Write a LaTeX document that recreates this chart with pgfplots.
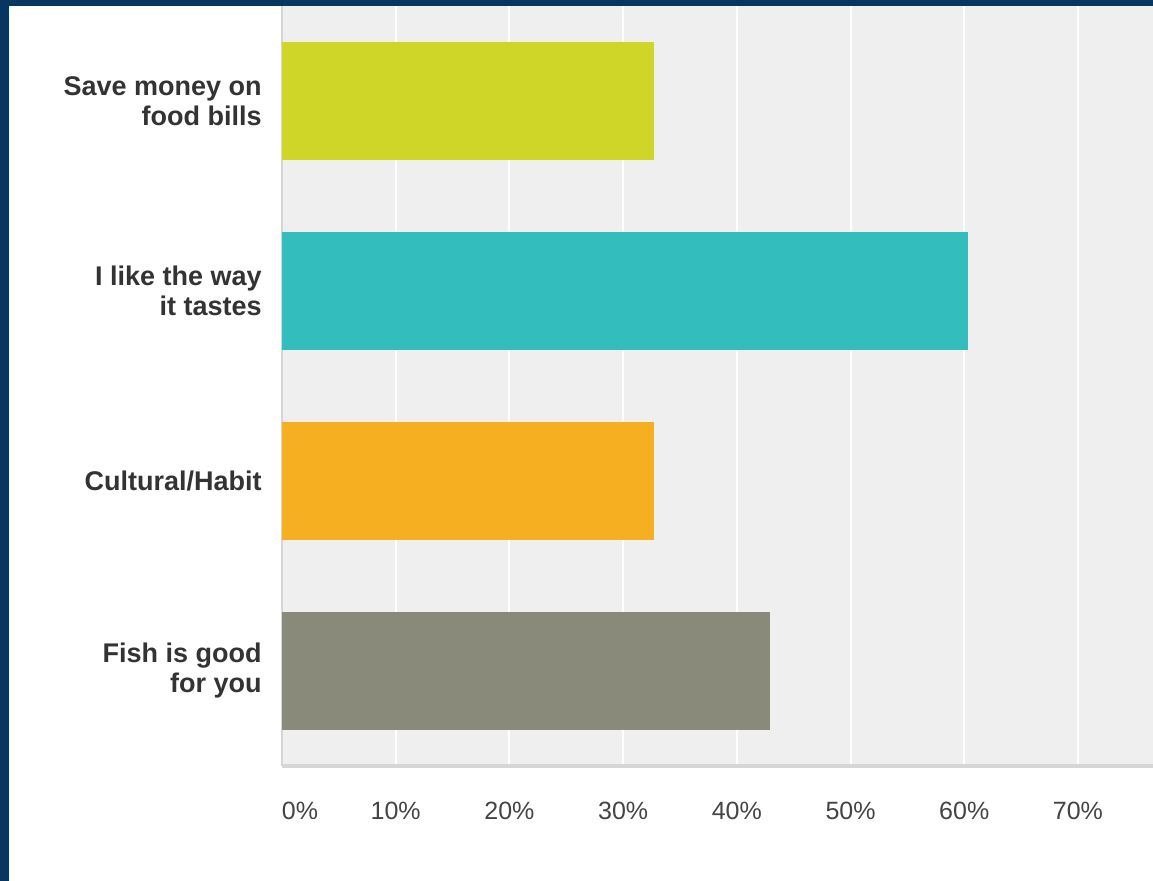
\documentclass[border=0pt]{standalone}
\usepackage{fontspec}
\setmainfont{Liberation Sans}
\usepackage{pgfplots}
\pgfplotsset{compat=1.18}
\definecolor{navyframe}{HTML}{073661}
\definecolor{cgreen}{HTML}{D0D628}
\definecolor{cteal}{HTML}{33BDBD}
\definecolor{corange}{HTML}{F6AF20}
\definecolor{cgray}{HTML}{8A8A7B}
\definecolor{plotbg}{HTML}{EFEFEF}
\definecolor{axline}{HTML}{D6D6D6}
\definecolor{labtxt}{HTML}{333333}
\definecolor{ticktxt}{HTML}{444444}
\begin{document}
\begin{tikzpicture}
\path[use as bounding box] (0pt,0pt) rectangle (576.5pt,440.5pt);
\fill[navyframe] (0pt,0pt) rectangle (576.5pt,440.5pt);
\fill[white] (4.5pt,0pt) rectangle (576.5pt,437.5pt);
\begin{axis}[
  at={(141pt,57.5pt)}, anchor=south west,
  scale only axis, width=435.5pt, height=380pt,
  xmin=0, xmax=76.6, ymin=-0.5, ymax=3.5,
  axis background/.style={fill=plotbg},
  axis lines*=left,
  x axis line style={draw=axline, line width=2pt},
  y axis line style={draw=axline, line width=1pt},
  xtick={0,10,20,30,40,50,60,70},
  xticklabels={\makebox[0pt][l]{0\%},10\%,20\%,30\%,40\%,50\%,60\%,70\%},
  xticklabel style={anchor=base, yshift=-27pt, font=\fontsize{12.5}{14}\selectfont, text=ticktxt},
  ytick={0,1,2,3},
  yticklabels={{Fish is good\\for you},{Cultural/Habit},{I like the way\\it tastes},{Save money on\\food bills}},
  yticklabel style={align=right, anchor=east, inner sep=0pt, xshift=-10pt, font=\fontsize{13.5}{15}\selectfont\bfseries, text=labtxt},
  major tick length=0pt,
  xmajorgrids, grid style={draw=white, line width=1pt},
  clip=false,
]
\addplot[xbar, bar width=59pt, bar shift=0pt, fill=cgray, draw=none] coordinates {(42.9,0)};
\addplot[xbar, bar width=59pt, bar shift=0pt, fill=corange, draw=none] coordinates {(32.7,1)};
\addplot[xbar, bar width=59pt, bar shift=0pt, fill=cteal, draw=none] coordinates {(60.3,2)};
\addplot[xbar, bar width=59pt, bar shift=0pt, fill=cgreen, draw=none] coordinates {(32.7,3)};
\end{axis}
\end{tikzpicture}
\end{document}
